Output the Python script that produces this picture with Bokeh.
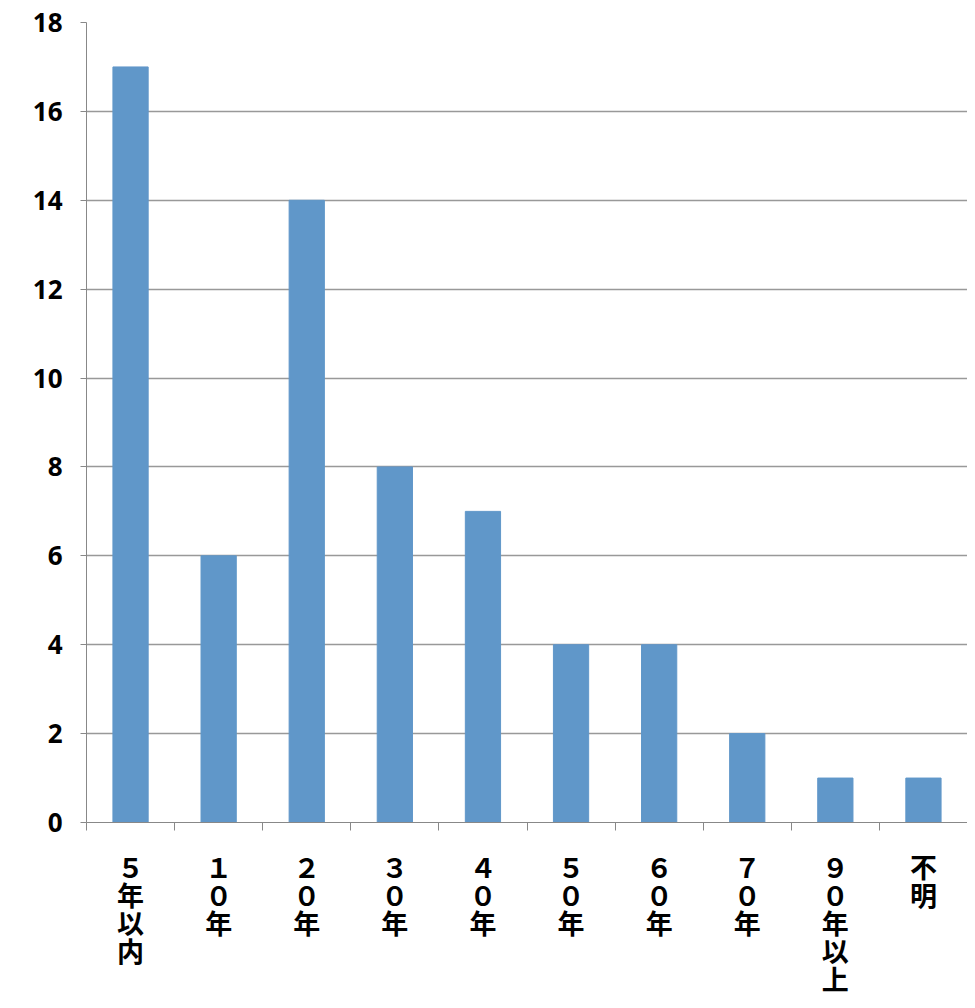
from bokeh.plotting import figure
from bokeh.models import FixedTicker
from bokeh.embed import file_html
from bokeh.resources import INLINE

labels = ["５\n年\n以\n内", "１\n０\n年", "２\n０\n年", "３\n０\n年", "４\n０\n年",
          "５\n０\n年", "６\n０\n年", "７\n０\n年", "９\n０\n年\n以\n上", "不\n明"]
counts = [17, 6, 14, 8, 7, 4, 4, 2, 1, 1]
xs = list(range(len(counts)))

p = figure(width=967, height=1000, output_backend="svg", toolbar_location=None,
           x_range=(-0.5, 9.5), y_range=(0, 18), min_border_left=86,
           min_border_right=0, min_border_top=22, min_border_bottom=0)
p.outline_line_color = None
p.vbar(x=xs, top=counts, width=0.4, color="#6097c9")

p.xaxis.ticker = FixedTicker(ticks=xs, minor_ticks=[i - 0.5 for i in range(11)])
p.xaxis.major_label_overrides = {i: l for i, l in enumerate(labels)}
p.xaxis.major_tick_out = 0
p.xaxis.major_tick_in = 0
p.xaxis.minor_tick_out = 8
p.xaxis.minor_tick_in = 0
p.xaxis.minor_tick_line_color = "#888888"
p.xaxis.axis_line_color = "#888888"
p.xaxis.major_label_text_font = "Noto Sans CJK JP"
p.xaxis.major_label_text_font_style = "bold"
p.xaxis.major_label_text_font_size = "27px"
p.xaxis.major_label_text_color = "black"
p.xaxis.major_label_text_line_height = 0.72
p.xaxis.major_label_standoff = 16

p.yaxis.ticker = FixedTicker(ticks=list(range(0, 19, 2)))
p.yaxis.minor_tick_line_color = None
p.yaxis.major_tick_out = 6
p.yaxis.major_tick_in = 0
p.yaxis.major_tick_line_color = "#888888"
p.yaxis.axis_line_color = "#888888"
p.yaxis.major_label_text_font = "Open Sans"
p.yaxis.major_label_text_font_style = "bold"
p.yaxis.major_label_text_font_size = "26px"
p.yaxis.major_label_text_color = "black"
p.yaxis.major_label_standoff = 18

p.xgrid.grid_line_color = None
p.ygrid.grid_line_color = "#999999"
p.ygrid.grid_line_width = 1.5

open("out.html", "w").write(file_html(p, INLINE))
